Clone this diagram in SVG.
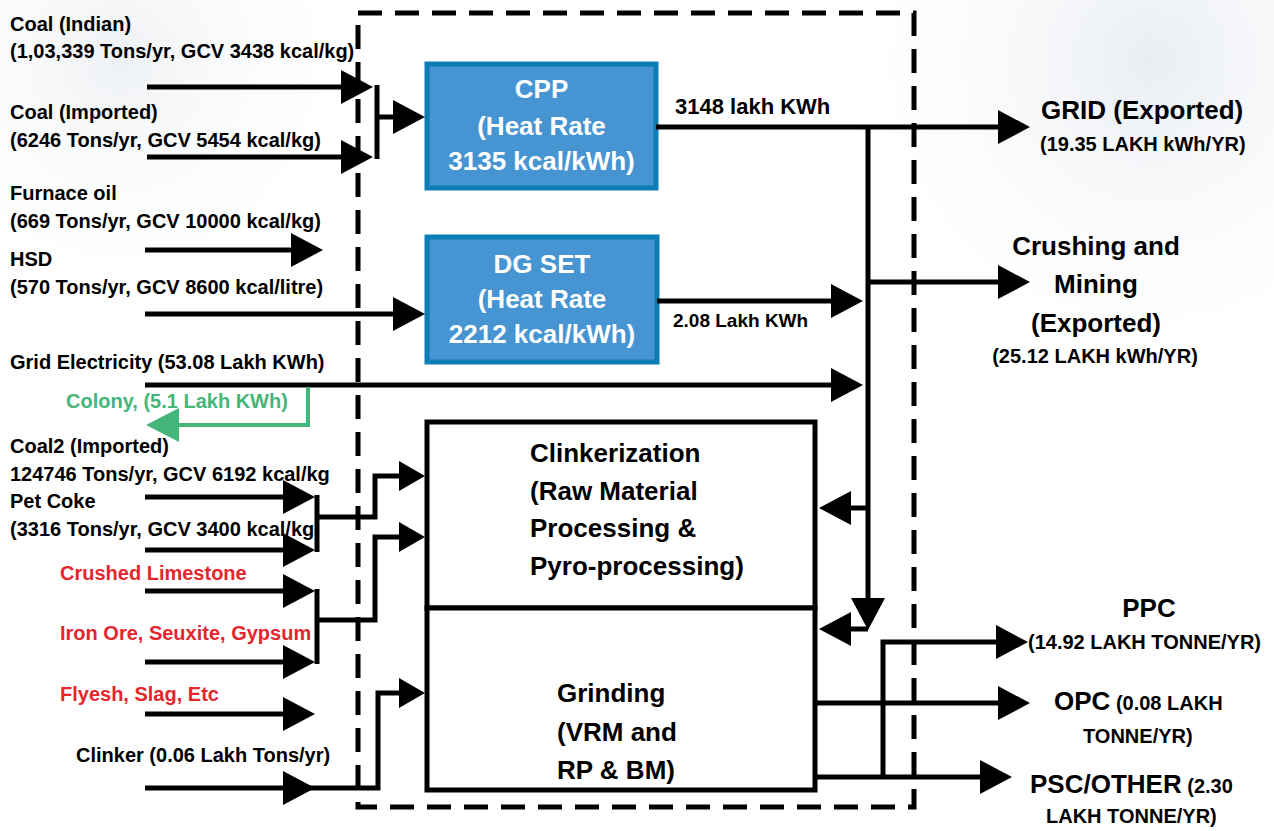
<svg xmlns="http://www.w3.org/2000/svg" width="1274" height="831" viewBox="0 0 1274 831">
  <defs>
    <style>
      .t { font-family: "Liberation Sans", Arial, sans-serif; font-weight: bold; fill: #000; }
      .s20 { font-size: 20px; }
      .s26 { font-size: 26px; }
      .red { fill: #e5262d; }
      .grn { fill: #45b679; }
      .wht { fill: #ffffff; }
      .mid { text-anchor: middle; }
      .ln { fill: none; stroke: #000; stroke-width: 5; stroke-linejoin: miter; }
      .ah { marker-end: url(#head); }
      .ahs { marker-end: url(#headS); }
      .blue { fill: #4694d1; stroke: #0c7db5; stroke-width: 5; }
      .proc { fill: #ffffff; stroke: #000; stroke-width: 5; }
    </style>
    <marker id="head" markerUnits="userSpaceOnUse" viewBox="0 0 32 34" markerWidth="32" markerHeight="34" refX="2" refY="17" orient="auto">
      <path d="M0,0 L32,17 L0,34 Z" fill="#000"/>
    </marker>
    <marker id="headS" markerUnits="userSpaceOnUse" viewBox="0 0 26 30" markerWidth="26" markerHeight="30" refX="2" refY="15" orient="auto">
      <path d="M0,0 L26,15 L0,30 Z" fill="#000"/>
    </marker>
    <marker id="headG" markerUnits="userSpaceOnUse" viewBox="0 0 33 34" markerWidth="33" markerHeight="34" refX="2" refY="17" orient="auto">
      <path d="M0,0 L33,17 L0,34 Z" fill="#45b679"/>
    </marker>
    <radialGradient id="hazeR" cx="1150" cy="60" r="330" gradientUnits="userSpaceOnUse">
      <stop offset="0" stop-color="#e9edf2"/>
      <stop offset="1" stop-color="#ffffff" stop-opacity="0"/>
    </radialGradient>
    <radialGradient id="hazeL" cx="120" cy="60" r="260" gradientUnits="userSpaceOnUse">
      <stop offset="0" stop-color="#eef1f4"/>
      <stop offset="1" stop-color="#ffffff" stop-opacity="0"/>
    </radialGradient>
  </defs>

  <!-- backdrop -->
  <rect width="1274" height="831" fill="#ffffff"/>
  <rect width="1274" height="420" fill="url(#hazeR)"/>
  <rect width="600" height="320" fill="url(#hazeL)"/>

  <!-- plant boundary -->
  <rect id="boundary" x="358" y="13" width="556" height="794" fill="none" stroke="#000" stroke-width="5" stroke-dasharray="24 13"/>

  <!-- process blocks -->
  <g id="cpp">
    <rect class="blue" x="427" y="64" width="229" height="124"/>
    <text class="t s26 wht mid" x="541.5" y="98">CPP</text>
    <text class="t s26 wht mid" x="541.5" y="135">(Heat Rate</text>
    <text class="t s26 wht mid" x="541.5" y="170">3135 kcal/kWh)</text>
  </g>
  <g id="dg-set">
    <rect class="blue" x="427" y="237" width="230" height="125"/>
    <text class="t s26 wht mid" x="542" y="273">DG SET</text>
    <text class="t s26 wht mid" x="542" y="308">(Heat Rate</text>
    <text class="t s26 wht mid" x="542" y="343">2212 kcal/kWh)</text>
  </g>
  <g id="clinkerization">
    <rect class="proc" x="427" y="422" width="388" height="186"/>
    <text class="t s26" x="530" y="462">Clinkerization</text>
    <text class="t s26" x="530" y="500">(Raw Material</text>
    <text class="t s26" x="530" y="537">Processing &amp;</text>
    <text class="t s26" x="530" y="575">Pyro-processing)</text>
  </g>
  <g id="grinding">
    <rect class="proc" x="427" y="608" width="388" height="182"/>
    <text class="t s26" x="557" y="702">Grinding</text>
    <text class="t s26" x="557" y="741">(VRM and</text>
    <text class="t s26" x="557" y="779">RP &amp; BM)</text>
  </g>

  <!-- inputs -->
  <g id="in-coal-indian">
    <text class="t s20" x="10" y="31">Coal (Indian)</text>
    <text class="t s20" x="10" y="58">(1,03,339 Tons/yr, GCV 3438 kcal/kg)</text>
  </g>
  <g id="in-coal-imported">
    <text class="t s20" x="10" y="119">Coal (Imported)</text>
    <text class="t s20" x="10" y="147">(6246 Tons/yr, GCV 5454 kcal/kg)</text>
  </g>
  <g id="in-furnace-oil">
    <text class="t s20" x="10" y="200">Furnace oil</text>
    <text class="t s20" x="10" y="228">(669 Tons/yr, GCV 10000 kcal/kg)</text>
  </g>
  <g id="in-hsd">
    <text class="t s20" x="10" y="266">HSD</text>
    <text class="t s20" x="10" y="294">(570 Tons/yr, GCV 8600 kcal/litre)</text>
  </g>
  <g id="in-grid">
    <text class="t s20" x="10" y="369">Grid Electricity (53.08 Lakh KWh)</text>
  </g>
  <g id="out-colony">
    <text class="t s20 grn" x="66" y="408">Colony, (5.1 Lakh KWh)</text>
  </g>
  <g id="in-coal2">
    <text class="t s20" x="10" y="453">Coal2 (Imported)</text>
    <text class="t s20" x="10" y="481">124746 Tons/yr, GCV 6192 kcal/kg</text>
  </g>
  <g id="in-pet-coke">
    <text class="t s20" x="10" y="508">Pet Coke</text>
    <text class="t s20" x="10" y="536">(3316 Tons/yr, GCV 3400 kcal/kg</text>
  </g>
  <g id="in-limestone">
    <text class="t s20 red" x="60" y="580">Crushed Limestone</text>
  </g>
  <g id="in-iron-ore">
    <text class="t s20 red" x="60" y="640">Iron Ore, Seuxite, Gypsum</text>
  </g>
  <g id="in-flyash">
    <text class="t s20 red" x="60" y="701">Flyesh, Slag, Etc</text>
  </g>
  <g id="in-clinker">
    <text class="t s20" x="76" y="762">Clinker (0.06 Lakh Tons/yr)</text>
  </g>

  <!-- outputs -->
  <g id="out-grid">
    <text class="t s26" x="1041" y="119">GRID (Exported)</text>
    <text class="t s20" x="1040" y="151">(19.35 LAKH kWh/YR)</text>
  </g>
  <g id="out-crushing">
    <text class="t s26 mid" x="1096" y="255">Crushing and</text>
    <text class="t s26 mid" x="1096" y="293">Mining</text>
    <text class="t s26 mid" x="1096" y="332">(Exported)</text>
    <text class="t s20 mid" x="1095" y="363">(25.12 LAKH kWh/YR)</text>
  </g>
  <g id="out-ppc">
    <text class="t s26 mid" x="1149" y="617">PPC</text>
    <text class="t s20" x="1028" y="649">(14.92 LAKH TONNE/YR)</text>
  </g>
  <g id="out-opc">
    <text class="t s26" x="1054" y="710">OPC<tspan class="s20"> (0.08 LAKH</tspan></text>
    <text class="t s20" x="1083" y="743">TONNE/YR)</text>
  </g>
  <g id="out-psc">
    <text class="t s26" x="1030" y="793">PSC/OTHER<tspan class="s20"> (2.30</tspan></text>
    <text class="t s20" x="1046" y="823">LAKH TONNE/YR)</text>
  </g>

  <!-- flow labels -->
  <text class="t" font-size="22" x="675" y="114">3148 lakh KWh</text>
  <text class="t" font-size="19" x="673" y="327">2.08 Lakh KWh</text>

  <!-- connectors -->
  <g id="connectors">
    <!-- fuels to CPP -->
    <path class="ln ah" d="M147,87 H343"/>
    <path class="ln ah" d="M147,157 H343"/>
    <path class="ln" d="M377,85 V159"/>
    <path class="ln ah" d="M377,117 H395"/>
    <!-- furnace oil -->
    <path class="ln ah" d="M145,250 H293"/>
    <!-- HSD to DG set -->
    <path class="ln ah" d="M145,314 H395"/>
    <!-- grid electricity to bus -->
    <path class="ln ah" d="M145,385 H833"/>
    <!-- colony draw-off -->
    <path d="M308,387 V425 H177" fill="none" stroke="#45b679" stroke-width="4" marker-end="url(#headG)"/>
    <!-- fuels to kiln -->
    <path class="ln ah" d="M145,497 H285"/>
    <path class="ln ah" d="M145,550 H285"/>
    <path class="ln" d="M317,495 V552"/>
    <path class="ln ahs" d="M317,517 H375 V476 H401"/>
    <!-- raw materials to kiln -->
    <path class="ln ah" d="M145,591 H285"/>
    <path class="ln ah" d="M145,662 H285"/>
    <path class="ln" d="M317,589 V664"/>
    <path class="ln ahs" d="M317,620 H375 V537 H401"/>
    <!-- additives -->
    <path class="ln ah" d="M145,714 H285"/>
    <!-- clinker to grinding -->
    <path class="ln ah" d="M145,788 H285"/>
    <path class="ln ahs" d="M300,788 H378 V693 H401"/>
    <!-- power bus -->
    <path class="ln ah" d="M656,127 H1000"/>
    <path class="ln ah" d="M868,125 V600"/>
    <path class="ln ah" d="M868,282 H1000"/>
    <path class="ln ah" d="M657,301 H833"/>
    <path class="ln ah" d="M868,508 H849"/>
    <path class="ln ah" d="M868,629 H849"/>
    <!-- cement products -->
    <path class="ln ah" d="M883,777 V642 H998"/>
    <path class="ln ah" d="M815,703 H1000"/>
    <path class="ln ah" d="M815,777 H982"/>
  </g>
</svg>
